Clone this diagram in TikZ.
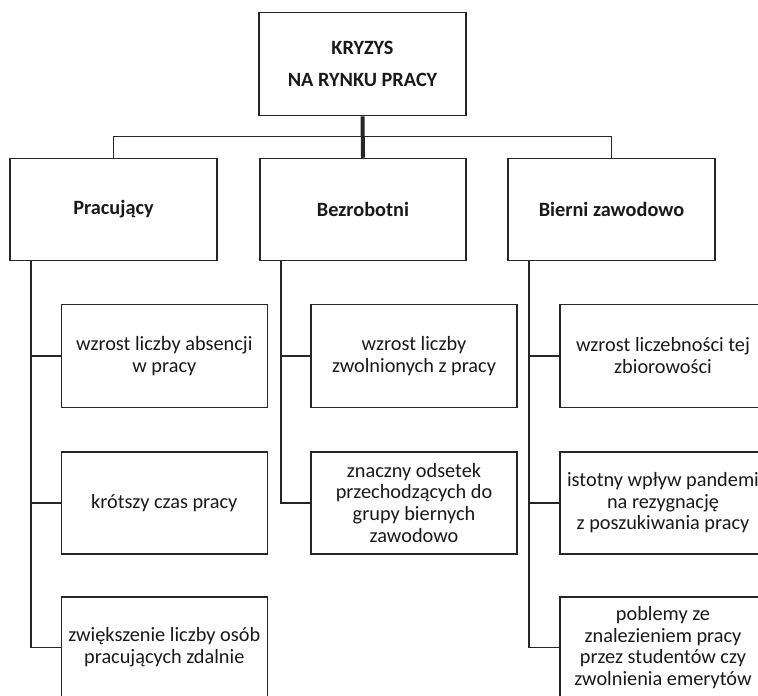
\documentclass[tikz,border=0pt]{standalone}
\usepackage{fontspec}
\setmainfont{Carlito}
\begin{document}
\begin{tikzpicture}[x=1pt,y=-1pt,
  box/.style={draw=black!85, line width=1.5pt, rectangle, minimum width=206pt, minimum height=102pt,
    align=center, inner sep=0pt, text=black!90, font=\fontsize{20.3}{21.7}\selectfont},
  hbox/.style={box, font=\fontsize{20.3}{21.7}\selectfont\bfseries},
  conn/.style={draw=black!85, line width=1.5pt},
  trunk/.style={draw=black!85, line width=4pt}]
\useasboundingbox (0,0) rectangle (758,696);
\clip (0,0) rectangle (758,696);

% top
\node[hbox, minimum width=207pt, minimum height=103pt, font=\fontsize{20.3}{32}\selectfont\bfseries] (top) at (362.5,64.2) {KRYZYS\\NA RYNKU PRACY};

% level 2
\node[hbox, minimum width=207pt] (pr) at (113.5,209.5) {Pracujący};
\node[hbox] (bz) at (363,209.5) {Bezrobotni};
\node[hbox, minimum width=207pt] (bi) at (611.5,209.5) {Bierni zawodowo};

% level 3 - Pracujący
\node[box, minimum height=103pt] (p1) at (164.3,355.8) {wzrost liczby absencji\\w pracy};
\node[box] (p2) at (164.3,502.8) {krótszy czas pracy};
\node[box, minimum height=101pt] (p3) at (164.3,647.5) {zwiększenie liczby osób\\pracujących zdalnie};

% level 3 - Bezrobotni
\node[box, minimum height=103pt] (b1) at (414,355.8) {wzrost liczby\\zwolnionych z pracy};
\node[box] (b2) at (414,502.8) {znaczny odsetek\\przechodzących do\\grupy biernych\\zawodowo};

% level 3 - Bierni zawodowo
\node[box, minimum height=103pt] (z1) at (663,355.8) {wzrost liczebności tej\\zbiorowości};
\node[box] (z2) at (663,502.8) {istotny wpływ pandemi\\na rezygnację\\z poszukiwania pracy};
\node[box, minimum height=101pt] (z3) at (663,647.5) {poblemy ze\\znalezieniem pracy\\przez studentów czy\\zwolnienia emerytów};

% connectors
\draw[trunk] (top.south) -- (bz.north);
\coordinate (hub) at (363,136.7);
\draw[conn] (pr.north) |- (hub) -| (bi.north);

\draw[conn] ([xshift=-82.5pt]pr.south) |- (p3.west);
\draw[conn] (p1.west) -- ++(-30,0);
\draw[conn] (p2.west) -- ++(-30,0);

\draw[conn] ([xshift=-82pt]bz.south) |- (b2.west);
\draw[conn] (b1.west) -- ++(-30,0);

\draw[conn] ([xshift=-82.5pt]bi.south) |- (z3.west);
\draw[conn] (z1.west) -- ++(-31,0);
\draw[conn] (z2.west) -- ++(-31,0);
\end{tikzpicture}
\end{document}
